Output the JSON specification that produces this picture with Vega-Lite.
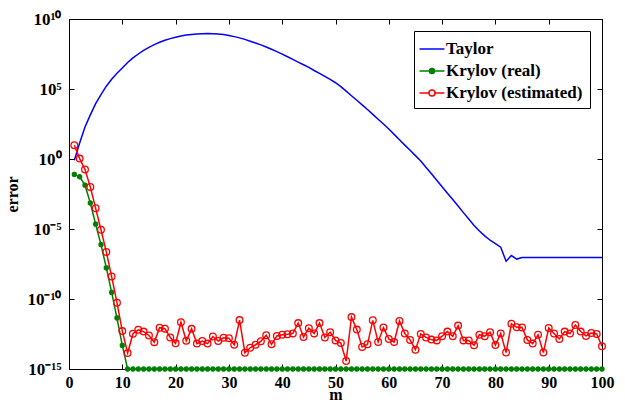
{
  "$schema": "https://vega.github.io/schema/vega-lite/v6.json",
  "width": 533,
  "height": 350,
  "autosize": {"type": "none"},
  "padding": {"left": 69, "top": 19, "right": 23, "bottom": 33},
  "background": "white",
  "datasets": {
    "all": [
      {"m":1,"v":0.81,"s":"Taylor"},{"m":2,"v":14.1,"s":"Taylor"},{"m":3,"v":195,"s":"Taylor"},{"m":4,"v":1413,"s":"Taylor"},{"m":5,"v":8913,"s":"Taylor"},
      {"m":6,"v":39810,"s":"Taylor"},{"m":7,"v":1.58e5,"s":"Taylor"},{"m":8,"v":5.0e5,"s":"Taylor"},{"m":9,"v":1.32e6,"s":"Taylor"},{"m":10,"v":3.16e6,"s":"Taylor"},
      {"m":11,"v":7.9e6,"s":"Taylor"},{"m":12,"v":1.66e7,"s":"Taylor"},{"m":13,"v":3.16e7,"s":"Taylor"},{"m":14,"v":5.75e7,"s":"Taylor"},{"m":15,"v":9.5e7,"s":"Taylor"},
      {"m":16,"v":1.48e8,"s":"Taylor"},{"m":17,"v":2.19e8,"s":"Taylor"},{"m":18,"v":3.02e8,"s":"Taylor"},{"m":19,"v":3.98e8,"s":"Taylor"},{"m":20,"v":5.0e8,"s":"Taylor"},
      {"m":21,"v":6.0e8,"s":"Taylor"},{"m":22,"v":7.1e8,"s":"Taylor"},{"m":23,"v":7.9e8,"s":"Taylor"},{"m":24,"v":8.5e8,"s":"Taylor"},{"m":25,"v":8.9e8,"s":"Taylor"},
      {"m":26,"v":9.1e8,"s":"Taylor"},{"m":27,"v":8.9e8,"s":"Taylor"},{"m":28,"v":8.5e8,"s":"Taylor"},{"m":29,"v":7.8e8,"s":"Taylor"},{"m":30,"v":6.6e8,"s":"Taylor"},
      {"m":31,"v":5.5e8,"s":"Taylor"},{"m":32,"v":4.5e8,"s":"Taylor"},{"m":33,"v":3.5e8,"s":"Taylor"},{"m":34,"v":2.6e8,"s":"Taylor"},{"m":35,"v":1.95e8,"s":"Taylor"},
      {"m":36,"v":1.41e8,"s":"Taylor"},{"m":37,"v":1.0e8,"s":"Taylor"},{"m":38,"v":6.9e7,"s":"Taylor"},{"m":39,"v":4.7e7,"s":"Taylor"},{"m":40,"v":3.1e7,"s":"Taylor"},
      {"m":41,"v":2.0e7,"s":"Taylor"},{"m":42,"v":1.29e7,"s":"Taylor"},{"m":43,"v":8.3e6,"s":"Taylor"},{"m":44,"v":5.4e6,"s":"Taylor"},{"m":45,"v":3.5e6,"s":"Taylor"},
      {"m":46,"v":2.1e6,"s":"Taylor"},{"m":47,"v":1.32e6,"s":"Taylor"},{"m":48,"v":7.9e5,"s":"Taylor"},{"m":49,"v":4.8e5,"s":"Taylor"},{"m":50,"v":2.8e5,"s":"Taylor"},
      {"m":51,"v":1.48e5,"s":"Taylor"},{"m":52,"v":7.1e4,"s":"Taylor"},{"m":53,"v":3.3e4,"s":"Taylor"},{"m":54,"v":1.58e4,"s":"Taylor"},{"m":55,"v":7400,"s":"Taylor"},
      {"m":56,"v":3400,"s":"Taylor"},{"m":57,"v":1550,"s":"Taylor"},{"m":58,"v":692,"s":"Taylor"},{"m":59,"v":316,"s":"Taylor"},{"m":60,"v":138,"s":"Taylor"},
      {"m":61,"v":57.5,"s":"Taylor"},{"m":62,"v":24,"s":"Taylor"},{"m":63,"v":9.8,"s":"Taylor"},{"m":64,"v":4.2,"s":"Taylor"},{"m":65,"v":1.74,"s":"Taylor"},
      {"m":66,"v":0.72,"s":"Taylor"},{"m":67,"v":0.25,"s":"Taylor"},{"m":68,"v":0.087,"s":"Taylor"},{"m":69,"v":0.03,"s":"Taylor"},{"m":70,"v":0.0105,"s":"Taylor"},
      {"m":71,"v":3.6e-3,"s":"Taylor"},{"m":72,"v":1.26e-3,"s":"Taylor"},{"m":73,"v":4.4e-4,"s":"Taylor"},{"m":74,"v":1.48e-4,"s":"Taylor"},{"m":75,"v":5.1e-5,"s":"Taylor"},
      {"m":76,"v":1.8e-5,"s":"Taylor"},{"m":77,"v":7.1e-6,"s":"Taylor"},{"m":78,"v":3.2e-6,"s":"Taylor"},{"m":79,"v":1.58e-6,"s":"Taylor"},{"m":80,"v":8.9e-7,"s":"Taylor"},
      {"m":81,"v":5.0e-7,"s":"Taylor"},{"m":82,"v":5.0e-8,"s":"Taylor"},{"m":83,"v":1.26e-7,"s":"Taylor"},{"m":84,"v":7.1e-8,"s":"Taylor"},{"m":85,"v":9.1e-8,"s":"Taylor"},
      {"m":86,"v":9.1e-8,"s":"Taylor"},{"m":87,"v":9.1e-8,"s":"Taylor"},{"m":88,"v":9.1e-8,"s":"Taylor"},{"m":89,"v":9.1e-8,"s":"Taylor"},{"m":90,"v":9.1e-8,"s":"Taylor"},
      {"m":91,"v":9.1e-8,"s":"Taylor"},{"m":92,"v":9.1e-8,"s":"Taylor"},{"m":93,"v":9.1e-8,"s":"Taylor"},{"m":94,"v":9.1e-8,"s":"Taylor"},{"m":95,"v":9.1e-8,"s":"Taylor"},
      {"m":96,"v":9.1e-8,"s":"Taylor"},{"m":97,"v":9.1e-8,"s":"Taylor"},{"m":98,"v":9.1e-8,"s":"Taylor"},{"m":99,"v":9.1e-8,"s":"Taylor"},{"m":100,"v":9.1e-8,"s":"Taylor"},

      {"m":1,"v":0.079,"s":"Krylov (real)"},{"m":2,"v":0.054,"s":"Krylov (real)"},{"m":3,"v":0.0135,"s":"Krylov (real)"},{"m":4,"v":7.2e-4,"s":"Krylov (real)"},{"m":5,"v":2.2e-5,"s":"Krylov (real)"},
      {"m":6,"v":7.6e-7,"s":"Krylov (real)"},{"m":7,"v":1.7e-8,"s":"Krylov (real)"},{"m":8,"v":3.0e-10,"s":"Krylov (real)"},{"m":9,"v":4.4e-12,"s":"Krylov (real)"},{"m":10,"v":4.9e-14,"s":"Krylov (real)"},
      {"m":11,"v":1e-15,"s":"Krylov (real)"},{"m":12,"v":1e-15,"s":"Krylov (real)"},{"m":13,"v":1e-15,"s":"Krylov (real)"},{"m":14,"v":1e-15,"s":"Krylov (real)"},{"m":15,"v":1e-15,"s":"Krylov (real)"},
      {"m":16,"v":1e-15,"s":"Krylov (real)"},{"m":17,"v":1e-15,"s":"Krylov (real)"},{"m":18,"v":1e-15,"s":"Krylov (real)"},{"m":19,"v":1e-15,"s":"Krylov (real)"},{"m":20,"v":1e-15,"s":"Krylov (real)"},
      {"m":21,"v":1e-15,"s":"Krylov (real)"},{"m":22,"v":1e-15,"s":"Krylov (real)"},{"m":23,"v":1e-15,"s":"Krylov (real)"},{"m":24,"v":1e-15,"s":"Krylov (real)"},{"m":25,"v":1e-15,"s":"Krylov (real)"},
      {"m":26,"v":1e-15,"s":"Krylov (real)"},{"m":27,"v":1e-15,"s":"Krylov (real)"},{"m":28,"v":1e-15,"s":"Krylov (real)"},{"m":29,"v":1e-15,"s":"Krylov (real)"},{"m":30,"v":1e-15,"s":"Krylov (real)"},
      {"m":31,"v":1e-15,"s":"Krylov (real)"},{"m":32,"v":1e-15,"s":"Krylov (real)"},{"m":33,"v":1e-15,"s":"Krylov (real)"},{"m":34,"v":1e-15,"s":"Krylov (real)"},{"m":35,"v":1e-15,"s":"Krylov (real)"},
      {"m":36,"v":1e-15,"s":"Krylov (real)"},{"m":37,"v":1e-15,"s":"Krylov (real)"},{"m":38,"v":1e-15,"s":"Krylov (real)"},{"m":39,"v":1e-15,"s":"Krylov (real)"},{"m":40,"v":1e-15,"s":"Krylov (real)"},
      {"m":41,"v":1e-15,"s":"Krylov (real)"},{"m":42,"v":1e-15,"s":"Krylov (real)"},{"m":43,"v":1e-15,"s":"Krylov (real)"},{"m":44,"v":1e-15,"s":"Krylov (real)"},{"m":45,"v":1e-15,"s":"Krylov (real)"},
      {"m":46,"v":1e-15,"s":"Krylov (real)"},{"m":47,"v":1e-15,"s":"Krylov (real)"},{"m":48,"v":1e-15,"s":"Krylov (real)"},{"m":49,"v":1e-15,"s":"Krylov (real)"},{"m":50,"v":1e-15,"s":"Krylov (real)"},
      {"m":51,"v":1e-15,"s":"Krylov (real)"},{"m":52,"v":1e-15,"s":"Krylov (real)"},{"m":53,"v":1e-15,"s":"Krylov (real)"},{"m":54,"v":1e-15,"s":"Krylov (real)"},{"m":55,"v":1e-15,"s":"Krylov (real)"},
      {"m":56,"v":1e-15,"s":"Krylov (real)"},{"m":57,"v":1e-15,"s":"Krylov (real)"},{"m":58,"v":1e-15,"s":"Krylov (real)"},{"m":59,"v":1e-15,"s":"Krylov (real)"},{"m":60,"v":1e-15,"s":"Krylov (real)"},
      {"m":61,"v":1e-15,"s":"Krylov (real)"},{"m":62,"v":1e-15,"s":"Krylov (real)"},{"m":63,"v":1e-15,"s":"Krylov (real)"},{"m":64,"v":1e-15,"s":"Krylov (real)"},{"m":65,"v":1e-15,"s":"Krylov (real)"},
      {"m":66,"v":1e-15,"s":"Krylov (real)"},{"m":67,"v":1e-15,"s":"Krylov (real)"},{"m":68,"v":1e-15,"s":"Krylov (real)"},{"m":69,"v":1e-15,"s":"Krylov (real)"},{"m":70,"v":1e-15,"s":"Krylov (real)"},
      {"m":71,"v":1e-15,"s":"Krylov (real)"},{"m":72,"v":1e-15,"s":"Krylov (real)"},{"m":73,"v":1e-15,"s":"Krylov (real)"},{"m":74,"v":1e-15,"s":"Krylov (real)"},{"m":75,"v":1e-15,"s":"Krylov (real)"},
      {"m":76,"v":1e-15,"s":"Krylov (real)"},{"m":77,"v":1e-15,"s":"Krylov (real)"},{"m":78,"v":1e-15,"s":"Krylov (real)"},{"m":79,"v":1e-15,"s":"Krylov (real)"},{"m":80,"v":1e-15,"s":"Krylov (real)"},
      {"m":81,"v":1e-15,"s":"Krylov (real)"},{"m":82,"v":1e-15,"s":"Krylov (real)"},{"m":83,"v":1e-15,"s":"Krylov (real)"},{"m":84,"v":1e-15,"s":"Krylov (real)"},{"m":85,"v":1e-15,"s":"Krylov (real)"},
      {"m":86,"v":1e-15,"s":"Krylov (real)"},{"m":87,"v":1e-15,"s":"Krylov (real)"},{"m":88,"v":1e-15,"s":"Krylov (real)"},{"m":89,"v":1e-15,"s":"Krylov (real)"},{"m":90,"v":1e-15,"s":"Krylov (real)"},
      {"m":91,"v":1e-15,"s":"Krylov (real)"},{"m":92,"v":1e-15,"s":"Krylov (real)"},{"m":93,"v":1e-15,"s":"Krylov (real)"},{"m":94,"v":1e-15,"s":"Krylov (real)"},{"m":95,"v":1e-15,"s":"Krylov (real)"},
      {"m":96,"v":1e-15,"s":"Krylov (real)"},{"m":97,"v":1e-15,"s":"Krylov (real)"},{"m":98,"v":1e-15,"s":"Krylov (real)"},{"m":99,"v":1e-15,"s":"Krylov (real)"},{"m":100,"v":1e-15,"s":"Krylov (real)"},

      {"m":1,"v":9.5,"s":"Krylov (estimated)"},{"m":2,"v":1.07,"s":"Krylov (estimated)"},{"m":3,"v":0.178,"s":"Krylov (estimated)"},{"m":4,"v":0.01,"s":"Krylov (estimated)"},{"m":5,"v":3.0e-4,"s":"Krylov (estimated)"},
      {"m":6,"v":8.9e-6,"s":"Krylov (estimated)"},{"m":7,"v":2.3e-7,"s":"Krylov (estimated)"},{"m":8,"v":4.0e-9,"s":"Krylov (estimated)"},{"m":9,"v":5.5e-11,"s":"Krylov (estimated)"},{"m":10,"v":5.1e-13,"s":"Krylov (estimated)"},
      {"m":11,"v":1.4e-14,"s":"Krylov (estimated)"},{"m":12,"v":3.3e-13,"s":"Krylov (estimated)"},{"m":13,"v":6.3e-13,"s":"Krylov (estimated)"},{"m":14,"v":4.7e-13,"s":"Krylov (estimated)"},{"m":15,"v":2.5e-13,"s":"Krylov (estimated)"},
      {"m":16,"v":8.3e-14,"s":"Krylov (estimated)"},{"m":17,"v":8.9e-13,"s":"Krylov (estimated)"},{"m":18,"v":7.6e-13,"s":"Krylov (estimated)"},{"m":19,"v":1.8e-13,"s":"Krylov (estimated)"},{"m":20,"v":6.8e-14,"s":"Krylov (estimated)"},
      {"m":21,"v":2.2e-12,"s":"Krylov (estimated)"},{"m":22,"v":1.05e-13,"s":"Krylov (estimated)"},{"m":23,"v":7.4e-13,"s":"Krylov (estimated)"},{"m":24,"v":6.5e-14,"s":"Krylov (estimated)"},{"m":25,"v":1.0e-13,"s":"Krylov (estimated)"},
      {"m":26,"v":6.5e-14,"s":"Krylov (estimated)"},{"m":27,"v":2.1e-13,"s":"Krylov (estimated)"},{"m":28,"v":1.0e-13,"s":"Krylov (estimated)"},{"m":29,"v":1.7e-13,"s":"Krylov (estimated)"},{"m":30,"v":1.6e-13,"s":"Krylov (estimated)"},
      {"m":31,"v":5.4e-14,"s":"Krylov (estimated)"},{"m":32,"v":3.1e-12,"s":"Krylov (estimated)"},{"m":33,"v":1.45e-14,"s":"Krylov (estimated)"},{"m":34,"v":3.3e-14,"s":"Krylov (estimated)"},{"m":35,"v":5.4e-14,"s":"Krylov (estimated)"},
      {"m":36,"v":9.5e-14,"s":"Krylov (estimated)"},{"m":37,"v":2.6e-13,"s":"Krylov (estimated)"},{"m":38,"v":5.8e-14,"s":"Krylov (estimated)"},{"m":39,"v":2.3e-13,"s":"Krylov (estimated)"},{"m":40,"v":2.8e-13,"s":"Krylov (estimated)"},
      {"m":41,"v":3.0e-13,"s":"Krylov (estimated)"},{"m":42,"v":3.5e-13,"s":"Krylov (estimated)"},{"m":43,"v":1.9e-12,"s":"Krylov (estimated)"},{"m":44,"v":1.95e-13,"s":"Krylov (estimated)"},{"m":45,"v":8.3e-13,"s":"Krylov (estimated)"},
      {"m":46,"v":3.5e-13,"s":"Krylov (estimated)"},{"m":47,"v":1.9e-12,"s":"Krylov (estimated)"},{"m":48,"v":1.8e-13,"s":"Krylov (estimated)"},{"m":49,"v":4.3e-13,"s":"Krylov (estimated)"},{"m":50,"v":1.1e-13,"s":"Krylov (estimated)"},
      {"m":51,"v":7.2e-14,"s":"Krylov (estimated)"},{"m":52,"v":3.7e-15,"s":"Krylov (estimated)"},{"m":53,"v":5.1e-12,"s":"Krylov (estimated)"},{"m":54,"v":6.5e-13,"s":"Krylov (estimated)"},{"m":55,"v":3.7e-14,"s":"Krylov (estimated)"},
      {"m":56,"v":5.8e-14,"s":"Krylov (estimated)"},{"m":57,"v":3.0e-12,"s":"Krylov (estimated)"},{"m":58,"v":8.5e-14,"s":"Krylov (estimated)"},{"m":59,"v":9.1e-13,"s":"Krylov (estimated)"},{"m":60,"v":1.4e-13,"s":"Krylov (estimated)"},
      {"m":61,"v":8.5e-14,"s":"Krylov (estimated)"},{"m":62,"v":2.7e-12,"s":"Krylov (estimated)"},{"m":63,"v":3.4e-13,"s":"Krylov (estimated)"},{"m":64,"v":1.2e-13,"s":"Krylov (estimated)"},{"m":65,"v":2.4e-14,"s":"Krylov (estimated)"},
      {"m":66,"v":3.2e-13,"s":"Krylov (estimated)"},{"m":67,"v":1.8e-13,"s":"Krylov (estimated)"},{"m":68,"v":1.26e-13,"s":"Krylov (estimated)"},{"m":69,"v":1.1e-13,"s":"Krylov (estimated)"},{"m":70,"v":2.2e-13,"s":"Krylov (estimated)"},
      {"m":71,"v":4.7e-13,"s":"Krylov (estimated)"},{"m":72,"v":2.2e-13,"s":"Krylov (estimated)"},{"m":73,"v":1.26e-12,"s":"Krylov (estimated)"},{"m":74,"v":1.1e-13,"s":"Krylov (estimated)"},{"m":75,"v":1.1e-13,"s":"Krylov (estimated)"},
      {"m":76,"v":4.9e-14,"s":"Krylov (estimated)"},{"m":77,"v":2.8e-13,"s":"Krylov (estimated)"},{"m":78,"v":2.2e-13,"s":"Krylov (estimated)"},{"m":79,"v":4.2e-13,"s":"Krylov (estimated)"},{"m":80,"v":5.1e-14,"s":"Krylov (estimated)"},
      {"m":81,"v":3.5e-13,"s":"Krylov (estimated)"},{"m":82,"v":1.5e-14,"s":"Krylov (estimated)"},{"m":83,"v":1.7e-12,"s":"Krylov (estimated)"},{"m":84,"v":9.5e-13,"s":"Krylov (estimated)"},{"m":85,"v":9.1e-13,"s":"Krylov (estimated)"},
      {"m":86,"v":1.2e-13,"s":"Krylov (estimated)"},{"m":87,"v":6.5e-14,"s":"Krylov (estimated)"},{"m":88,"v":2.8e-13,"s":"Krylov (estimated)"},{"m":89,"v":1.5e-14,"s":"Krylov (estimated)"},{"m":90,"v":8.5e-13,"s":"Krylov (estimated)"},
      {"m":91,"v":3.4e-13,"s":"Krylov (estimated)"},{"m":92,"v":1.4e-13,"s":"Krylov (estimated)"},{"m":93,"v":4.7e-13,"s":"Krylov (estimated)"},{"m":94,"v":3.4e-13,"s":"Krylov (estimated)"},{"m":95,"v":1.4e-12,"s":"Krylov (estimated)"},
      {"m":96,"v":4.7e-13,"s":"Krylov (estimated)"},{"m":97,"v":2.3e-13,"s":"Krylov (estimated)"},{"m":98,"v":3.7e-13,"s":"Krylov (estimated)"},{"m":99,"v":3.2e-13,"s":"Krylov (estimated)"},{"m":100,"v":4.2e-14,"s":"Krylov (estimated)"}
    ]
  },
  "data": {"name": "all"},
  "layer": [
    {
      "transform": [{"filter": "datum.s === 'Taylor'"}],
      "mark": {"type": "line", "strokeWidth": 1.5},
      "encoding": {
        "x": {"field": "m", "type": "quantitative", "scale": {"domain": [0, 100], "nice": false},
              "axis": {"orient": "bottom", "title": "m", "values": [0,10,20,30,40,50,60,70,80,90,100], "labelPadding": 10, "titlePadding": -4, "labelFlush": false}},
        "y": {"field": "v", "type": "quantitative", "scale": {"type": "log", "domain": [1e-15, 1e10], "nice": false},
              "axis": {"orient": "left", "title": "error", "values": [1e-15, 1e-10, 1e-5, 1, 1e5, 1e10], "labelPadding": 13, "titlePadding": 6, "labelFontSize": 17,
                       "labelExpr": "datum.value > 1e9 ? '10¹⁰' : datum.value > 1e4 ? '10⁵' : datum.value > 0.1 ? '10⁰' : datum.value > 1e-6 ? '10⁻⁵' : datum.value > 1e-11 ? '10⁻¹⁰' : '10⁻¹⁵'"}},
        "color": {"field": "s", "type": "nominal",
                  "scale": {"domain": ["Taylor", "Krylov (real)", "Krylov (estimated)"], "range": ["#0000ff", "#008000", "#ff0000"]},
                  "legend": {
                    "orient": "top-right", "offset": 12, "title": null,
                    "symbolSize": 400, "symbolStrokeWidth": 1.5, "symbolType": "stroke",
                    "labelFont": "Liberation Serif", "labelFontSize": 17, "labelFontWeight": "bold", "labelColor": "black",
                    "rowPadding": 3, "labelOffset": 3, "padding": 7,
                    "strokeColor": "black", "fillColor": "white",
                    "encode": {
                      "labels": {"update": {"font": {"value": "Liberation Serif"}, "fontWeight": {"value": "bold"}}},
                      "symbols": {"update": {
                      "shape": {"signal": "datum.value === 'Taylor' ? 'M-1.25,0H1.25' : datum.value === 'Krylov (real)' ? 'M-1.25,0H1.25M-0.25,0A0.25,0.25,0,1,0,0.25,0A0.25,0.25,0,1,0,-0.25,0' : 'M-1.25,0H-0.3M0.3,0H1.25M-0.3,0A0.3,0.3,0,1,0,0.3,0A0.3,0.3,0,1,0,-0.3,0'"},
                      "fill": {"signal": "datum.value === 'Krylov (real)' ? '#008000' : 'transparent'"},
                      "stroke": {"signal": "datum.value === 'Taylor' ? '#0000ff' : datum.value === 'Krylov (real)' ? '#008000' : '#ff0000'"},
                      "strokeWidth": {"value": 1.5}
                    }}}
                  }}
      }
    },
    {
      "transform": [{"filter": "datum.s === 'Krylov (real)'"}],
      "mark": {"type": "line", "strokeWidth": 1.5},
      "encoding": {
        "x": {"field": "m", "type": "quantitative", "scale": {"domain": [0, 100], "nice": false}, "axis": null},
        "y": {"field": "v", "type": "quantitative", "scale": {"type": "log", "domain": [1e-15, 1e10], "nice": false}, "axis": null},
        "color": {"field": "s", "type": "nominal"}
      }
    },
    {
      "transform": [{"filter": "datum.s === 'Krylov (real)'"}],
      "mark": {"type": "point", "shape": "M-1,0H1M0,-1V1M-0.75,-0.75L0.75,0.75M-0.75,0.75L0.75,-0.75", "size": 28, "stroke": "#008000", "strokeWidth": 1.8, "filled": false, "opacity": 1},
      "encoding": {
        "x": {"field": "m", "type": "quantitative", "scale": {"domain": [0, 100], "nice": false}, "axis": null},
        "y": {"field": "v", "type": "quantitative", "scale": {"type": "log", "domain": [1e-15, 1e10], "nice": false}, "axis": null}
      }
    },
    {
      "transform": [{"filter": "datum.s === 'Krylov (estimated)'"}],
      "mark": {"type": "line", "strokeWidth": 1.5},
      "encoding": {
        "x": {"field": "m", "type": "quantitative", "scale": {"domain": [0, 100], "nice": false}, "axis": null},
        "y": {"field": "v", "type": "quantitative", "scale": {"type": "log", "domain": [1e-15, 1e10], "nice": false}, "axis": null},
        "color": {"field": "s", "type": "nominal"}
      }
    },
    {
      "transform": [{"filter": "datum.s === 'Krylov (estimated)'"}],
      "mark": {"type": "point", "shape": "circle", "size": 45, "stroke": "#ff0000", "strokeWidth": 1.3, "fill": "white", "fillOpacity": 0, "filled": false, "opacity": 1},
      "encoding": {
        "x": {"field": "m", "type": "quantitative", "scale": {"domain": [0, 100], "nice": false}, "axis": null},
        "y": {"field": "v", "type": "quantitative", "scale": {"type": "log", "domain": [1e-15, 1e10], "nice": false}, "axis": null}
      }
    },
    {
      "transform": [{"filter": "datum.s === 'Taylor'"}],
      "mark": {"type": "point", "opacity": 0},
      "encoding": {
        "x": {"field": "m", "type": "quantitative", "scale": {"domain": [0, 100], "nice": false},
              "axis": {"orient": "top", "labels": false, "title": null, "domain": false, "values": [0,10,20,30,40,50,60,70,80,90,100]}},
        "y": {"field": "v", "type": "quantitative", "scale": {"type": "log", "domain": [1e-15, 1e10], "nice": false},
              "axis": {"orient": "right", "labels": false, "title": null, "domain": false, "values": [1e-15, 1e-10, 1e-5, 1, 1e5, 1e10]}}
      }
    }
  ],
  "resolve": {"axis": {"x": "independent", "y": "independent"}},
  "config": {
    "font": "Liberation Serif",
    "view": {"stroke": "black", "strokeWidth": 1},
    "legend": {"labelFont": "Liberation Serif", "labelFontWeight": "bold"},
    "axis": {
      "labelFont": "Liberation Serif", "labelFontSize": 16, "labelFontWeight": "bold", "labelColor": "black",
      "titleFont": "Liberation Serif", "titleFontSize": 16, "titleFontWeight": "bold", "titleColor": "black",
      "domainColor": "black", "tickColor": "black", "tickSize": -5, "grid": false
    }
  }
}
